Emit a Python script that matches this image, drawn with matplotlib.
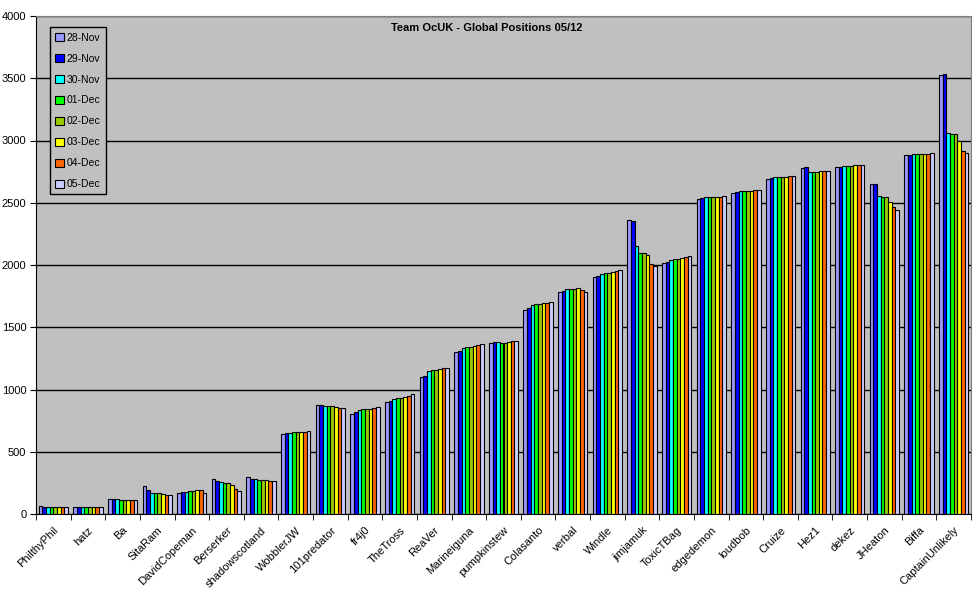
import numpy as np
import matplotlib
matplotlib.use("Agg")
import matplotlib.pyplot as plt
from matplotlib.patches import Patch

plt.rcParams['font.family'] = ['Liberation Sans', 'DejaVu Sans']

members = ["PhilthyPhil", "hatz", "Ba", "SitaRam", "DavidCopeman", "Berserker",
           "shadowscotland", "WobblerJW", "101predator", "fr4j0", "TheTross",
           "ReaVer", "Marineiguna", "pumpkinstew", "Colasanto", "verbal",
           "Windle", "jimjamuk", "ToxicTBag", "edgedemon", "loudbob", "Cruize",
           "Hez1", "dekez", "JHeaton", "Biffa", "CaptainUnlikely"]

dates = ["28-Nov", "29-Nov", "30-Nov", "01-Dec", "02-Dec", "03-Dec", "04-Dec", "05-Dec"]

# positions per member, one column per date
pos_28nov = [62, 55, 120, 222, 166, 279, 295, 645, 878, 801, 897, 1098, 1299, 1371,
             1636, 1781, 1901, 2359, 2014, 2528, 2576, 2689, 2777, 2785, 2648, 2881, 3524]
pos_29nov = [55, 55, 120, 190, 174, 262, 279, 650, 875, 817, 905, 1106, 1307, 1379,
             1652, 1789, 1909, 2351, 2022, 2536, 2584, 2697, 2785, 2785, 2648, 2881, 3532]
pos_30nov = [55, 55, 118, 169, 174, 255, 279, 652, 868, 833, 921, 1146, 1331, 1379,
             1676, 1805, 1925, 2150, 2038, 2544, 2592, 2705, 2745, 2793, 2552, 2889, 3058]
pos_01dec = [55, 55, 110, 169, 182, 246, 271, 655, 868, 841, 929, 1154, 1339, 1371,
             1684, 1805, 1933, 2094, 2046, 2544, 2592, 2705, 2745, 2793, 2544, 2889, 3050]
pos_02dec = [55, 55, 110, 169, 182, 246, 271, 655, 868, 841, 929, 1154, 1339, 1371,
             1684, 1805, 1933, 2094, 2046, 2544, 2592, 2705, 2745, 2793, 2544, 2889, 3050]
pos_03dec = [55, 55, 110, 158, 190, 230, 271, 658, 862, 841, 937, 1162, 1347, 1379,
             1692, 1813, 1941, 2078, 2054, 2544, 2592, 2705, 2753, 2801, 2504, 2889, 2993]
pos_04dec = [55, 55, 110, 150, 190, 198, 262, 660, 849, 849, 945, 1170, 1355, 1387,
             1692, 1797, 1949, 2006, 2062, 2544, 2600, 2713, 2753, 2801, 2464, 2889, 2913]
pos_05dec = [55, 55, 110, 150, 166, 182, 262, 665, 849, 857, 961, 1170, 1363, 1387,
             1700, 1781, 1957, 1990, 2070, 2552, 2600, 2713, 2753, 2801, 2440, 2897, 2897]

series = [pos_28nov, pos_29nov, pos_30nov, pos_01dec, pos_02dec, pos_03dec, pos_04dec, pos_05dec]
colors = ["#9999FF", "#0000FF", "#00FFFF", "#00FF00", "#99CC00", "#FFFF00", "#FF6600", "#CCCCFF"]

fig = plt.figure(figsize=(9.78, 5.98), dpi=100)
ax = fig.add_axes([36/978, 84/598, 935/978, 498/598])
ax.set_facecolor("#C0C0C0")

x = np.arange(len(members))
group_w = 0.846
bar_w = group_w / len(series)
for i, (vals, col) in enumerate(zip(series, colors)):
    ax.bar(x - group_w/2 + bar_w*(i + 0.5), vals, width=bar_w, color=col,
           edgecolor="black", linewidth=0.8, zorder=3)

ax.set_xlim(-0.5, len(members) - 0.5)
ax.set_ylim(0, 4000)
ax.set_yticks(np.arange(0, 4001, 500))
ax.yaxis.grid(True, color="black", linewidth=1.0, zorder=0)
ax.set_axisbelow(True)
ax.tick_params(axis='y', labelsize=8, length=4, direction='out', pad=3)

# labels at centres, tick marks at category boundaries
ax.set_xticks(x)
ax.set_xticklabels(members, rotation=45, ha='right', rotation_mode='anchor', fontsize=8)
ax.tick_params(axis='x', which='major', length=0, pad=8)
ax.set_xticks(np.arange(-0.5, len(members)), minor=True)
ax.tick_params(axis='x', which='minor', length=4, direction='out')

for side in ["top", "right"]:
    ax.spines[side].set_color("#808080")
ax.spines["left"].set_color("black")
ax.spines["bottom"].set_color("black")

ax.text(0.482, 0.986, "Team OcUK - Global Positions 05/12", transform=ax.transAxes,
        ha='center', va='top', fontsize=8, fontweight='bold')

handles = [Patch(facecolor=c, edgecolor="black", linewidth=0.8) for c in colors]
leg = ax.legend(handles, dates, loc='upper left', bbox_to_anchor=(0.015, 0.977),
                fontsize=7.5, frameon=True, fancybox=False, borderpad=0.5,
                labelspacing=1.05, handlelength=0.8, handleheight=0.8,
                handletextpad=0.3, borderaxespad=0)
leg.get_frame().set_facecolor("#C0C0C0")
leg.get_frame().set_edgecolor("black")
leg.get_frame().set_linewidth(1.0)
leg.get_frame().set_alpha(1)
leg.set_zorder(5)

fig.savefig("out.png", dpi=100)
